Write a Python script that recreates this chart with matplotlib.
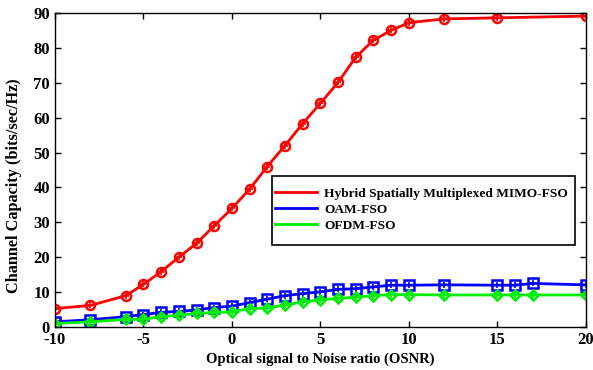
import matplotlib
matplotlib.use('Agg')
import matplotlib.pyplot as plt
from matplotlib.lines import Line2D
from matplotlib.patches import Rectangle

plt.rcParams['font.family'] = 'Liberation Serif'
plt.rcParams['font.weight'] = 'bold'
plt.rcParams['axes.unicode_minus'] = False

# data
x_red = [-10, -8, -6, -5, -4, -3, -2, -1, 0, 1, 2, 3, 4, 5, 6, 7, 8, 9, 10, 12, 15, 20]
y_red = [5.3, 6.2, 9.0, 12.2, 15.9, 20, 24, 29, 34, 39.5, 46, 52, 58.3, 64.1, 70.1, 77.3, 82.2, 85, 87.2, 88.3, 88.6, 89.1]

x_blue = [-10, -8, -6, -5, -4, -3, -2, -1, 0, 1, 2, 3, 4, 5, 6, 7, 8, 9, 10, 12, 15, 16, 17, 20]
y_blue = [1.5, 2.1, 3.0, 3.6, 4.2, 4.5, 4.9, 5.6, 6.0, 7.0, 8.0, 9.0, 9.6, 10.1, 10.8, 11.0, 11.5, 12.0, 12.0, 12.1, 12.0, 12.0, 12.5, 12.1]

x_green = [-10, -8, -6, -5, -4, -3, -2, -1, 0, 1, 2, 3, 4, 5, 6, 7, 8, 9, 10, 12, 15, 16, 17, 20]
y_green = [1.0, 1.5, 2.2, 2.2, 3.0, 3.4, 3.9, 4.2, 4.4, 5.3, 5.5, 6.3, 7.2, 7.8, 8.2, 8.6, 9.0, 9.3, 9.3, 9.2, 9.2, 9.2, 9.2, 9.2]

labels = ['Hybrid Spatially Multiplexed MIMO-FSO', 'OAM-FSO', 'OFDM-FSO']
colors = ['#ff0000', '#0000ff', '#00ee00']

fig = plt.figure(figsize=(5.93, 3.7), dpi=100)
ax = fig.add_axes([0.0927, 0.116, 0.895, 0.849])

series = [(x_red, y_red, 'o'), (x_blue, y_blue, 's'), (x_green, y_green, 'D')]
for (xs, ys, m), c in zip(series, colors):
    ax.plot(xs, ys, color=c, lw=2, marker=m, ms=6.5 if m != 'D' else 5.5,
            mfc='none', mec=c, mew=1.8)
    ax.plot(xs, ys, ls='none', marker='+', ms=4.5, mec=c, mew=1.2)

ax.set_xlim(-10, 20)
ax.set_ylim(0, 90)
ax.set_xticks([-10, -5, 0, 5, 10, 15, 20])
ax.set_yticks(range(0, 91, 10))
ax.tick_params(direction='in', top=True, right=True, labelsize=12, length=4, width=1)
for s in ax.spines.values():
    s.set_linewidth(1)
ax.set_xlabel('Optical signal to Noise ratio (OSNR)', fontsize=10.5, fontweight='bold', labelpad=3)
ax.set_ylabel('Channel Capacity (bits/sec/Hz)', fontsize=11.7, fontweight='bold')
ax.yaxis.set_label_coords(-0.062, 0.45)

# legend box drawn by hand, entries placed inside it
ax.add_patch(Rectangle((0.409, 0.261), 0.570, 0.220, transform=ax.transAxes,
                       fill=True, facecolor='white', edgecolor='black', lw=1.2, zorder=4))
handles = [Line2D([0], [0], color=c, lw=2) for c in colors]
leg = ax.legend(handles, labels, loc='upper left', bbox_to_anchor=(0.414, 0.445),
                fontsize=9.6, frameon=False, handlelength=3.2, handletextpad=0.5,
                borderpad=0, borderaxespad=0, labelspacing=0.28)
leg.set_zorder(5)

fig.savefig('out.png', dpi=100)
